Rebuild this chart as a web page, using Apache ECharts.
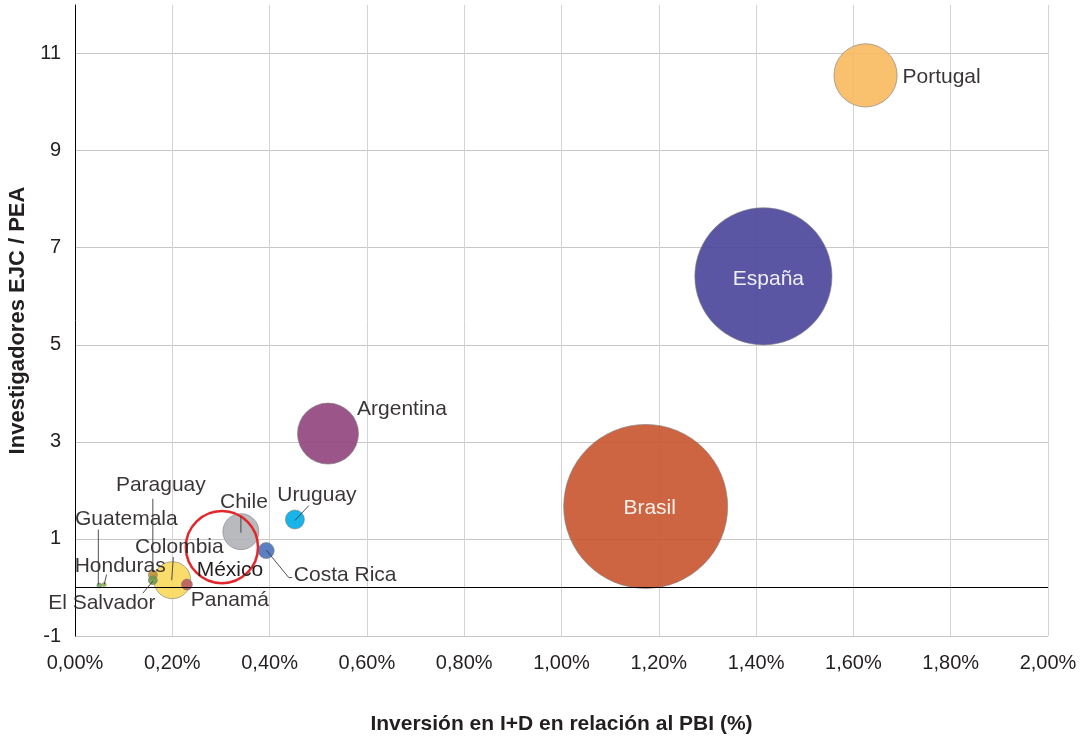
<!DOCTYPE html>
<html><head><meta charset="utf-8">
<script src="https://cdn.jsdelivr.net/npm/echarts@6/dist/echarts.min.js"></script>
<style>html,body{margin:0;padding:0;background:#fff}#c{width:1090px;height:737px}</style>
</head><body><div id="c"></div>
<script>
// ---- Data ----
const paises = ['Portugal','España','Brasil','Argentina','Chile','Uruguay','Costa Rica','Colombia','Panamá','Paraguay','El Salvador','Guatemala','Honduras','México'];
const inversion = [1.625, 1.415, 1.173, 0.52, 0.341, 0.452, 0.393, 0.20, 0.23, 0.16, 0.16, 0.05, 0.06, 0.302];
const investigadores = [10.55, 6.41, 1.67, 3.17, 1.15, 1.40, 0.76, 0.15, 0.06, 0.26, 0.15, 0.04, 0.06, 0.83];
const tamano = [1000, 4700, 6720, 930, 324, 90, 64, 342, 30, 20, 20, 6, 4, 1300];
const xTicks = [0, 0.2, 0.4, 0.6, 0.8, 1.0, 1.2, 1.4, 1.6, 1.8, 2.0];
const yTicks = [-1, 1, 3, 5, 7, 9, 11];
const tituloX = 'Inversión en I+D en relación al PBI (%)';
const tituloY = 'Investigadores EJC / PEA';

// ---- Styles / layout ----
const FONT = '"Liberation Sans", Arial, Helvetica, sans-serif';
const colores = {
  'Portugal':'#F8B95E','España':'#494499','Brasil':'#C8532E','Argentina':'#90427B',
  'Chile':'#B1B2B7','Uruguay':'#00ACE8','Costa Rica':'#4871BD','Colombia':'#F8D859',
  'Panamá':'#BB5A5E','Paraguay':'#BF9030','El Salvador':'#6E9A48','Guatemala':'#6EAC5C',
  'Honduras':'#A0C830','México':'rgba(0,0,0,0)'
};
// label centre offsets from bubble centre (px)
const labelOffsets = {
  'Portugal':[76,-1],'España':[5,0],'Brasil':[4,-1],'Argentina':[74,-27],
  'Chile':[3,-32],'Uruguay':[22,-27],'Costa Rica':[79,22],'Colombia':[7,-36],
  'Panamá':[43,13],'Paraguay':[8,-93],'El Salvador':[-51,20],'Guatemala':[27,-69],
  'Honduras':[16,-21],'México':[8,20]
};
// leader-line polylines, as px offsets from bubble centre
const lineas = {
  'Paraguay':   [[0,-77],[0,-4]],
  'Guatemala':  [[-1,-57],[-1,-2]],
  'Honduras':   [[2.4,-11],[0,-1]],
  'Colombia':   [[1,-24],[-0.6,-1]],
  'Chile':      [[0,-16],[0,0]],
  'Uruguay':    [[14,-15],[0,0]],
  'Costa Rica': [[0,-1.5],[22.6,26],[26,26]],
  'El Salvador':[[-10,12],[0,0]]
};
const blancos = new Set(['España','Brasil']);

const data = paises.map((p, i) => {
  const item = {
    name: p,
    value: [inversion[i], investigadores[i], tamano[i]],
    itemStyle: { color: colores[p] }
  };
  if (p === 'México') {
    item.itemStyle = { color: 'rgba(0,0,0,0)', borderColor: '#E3262B', borderWidth: 2.5, opacity: 1 };
  }
  if (blancos.has(p)) item.label = { color: '#ffffff' };
  return item;
});

const lineData = paises.map((p, i) => ({ name: p, value: [inversion[i], investigadores[i]] }))
  .filter(d => lineas[d.name]);

const fmtX = v => v.toFixed(2).replace('.', ',') + '%';

const chart = echarts.init(document.getElementById('c'), null, { renderer: 'canvas' });
chart.setOption({
  animation: false,
  backgroundColor: '#ffffff',
  textStyle: { fontFamily: FONT },
  grid: { left: 75, right: 42, top: 5, bottom: 101, containLabel: false, outerBoundsMode: 'none' },
  xAxis: {
    type: 'value', min: xTicks[0], max: xTicks[xTicks.length - 1], interval: xTicks[1] - xTicks[0],
    name: tituloX, nameLocation: 'middle', nameGap: 78,
    nameTextStyle: { fontFamily: FONT, fontSize: 21, fontWeight: 'bold', color: '#231F20' },
    axisLine: { show: false }, axisTick: { show: false },
    axisLabel: { formatter: fmtX, fontFamily: FONT, fontSize: 20, color: '#231F20', margin: 17 },
    splitLine: { show: true, lineStyle: { color: '#D3D3D3', width: 1 } }
  },
  yAxis: {
    type: 'value', min: yTicks[0], max: 12, interval: yTicks[1] - yTicks[0],
    name: tituloY, nameLocation: 'middle', nameGap: 43,
    nameTextStyle: { fontFamily: FONT, fontSize: 22, fontWeight: 'bold', color: '#231F20' },
    axisLine: { show: true, onZero: false, lineStyle: { color: '#000', width: 1 } },
    axisTick: { show: false },
    axisLabel: { fontFamily: FONT, fontSize: 20, color: '#231F20', margin: 14, showMaxLabel: false, padding: [0, 0, 10, 0] },
    splitLine: { show: true, showMaxLine: false, lineStyle: { color: '#C6C6C6', width: 1 } }
  },
  series: [{
    type: 'scatter',
    data: data,
    symbol: 'circle',
    symbolSize: v => 2 * Math.sqrt(v[2]),
    itemStyle: { borderColor: '#7F7F7F', borderWidth: 0.7, opacity: 0.9 },
    label: {
      show: true, position: 'inside', formatter: '{b}',
      fontFamily: FONT, fontSize: 21, color: '#231F20'
    },
    labelLayout: function (params) {
      const o = labelOffsets[paises[params.dataIndex]];
      return { dx: o[0], dy: o[1] + 3 };
    },
    emphasis: { disabled: true },
    markLine: {
      silent: true, symbol: ['none', 'none'], animation: false,
      label: { show: false },
      lineStyle: { color: '#000', width: 1, type: 'solid' },
      data: [{ yAxis: 0 }]
    }
  }, {
    type: 'custom',
    z: 5,
    silent: true,
    data: lineData,
    renderItem: function (params, api) {
      const name = lineData[params.dataIndex].name;
      const c = api.coord([api.value(0), api.value(1)]);
      const pts = lineas[name].map(o => [c[0] + o[0], c[1] + o[1] + 1]);
      return {
        type: 'polyline',
        shape: { points: pts },
        style: { stroke: '#3A3A3A', lineWidth: 0.9, fill: null }
      };
    }
  }]
});
</script></body></html>
